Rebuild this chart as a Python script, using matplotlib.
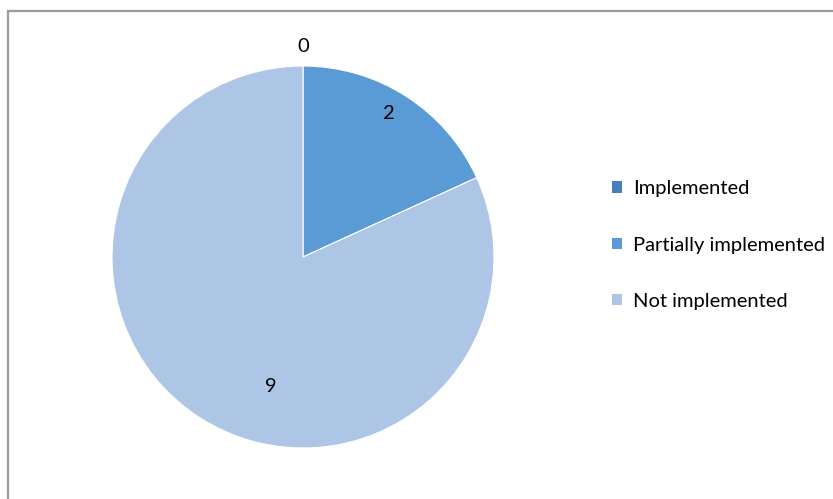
import matplotlib.pyplot as plt
import numpy as np
from matplotlib.patches import Patch, Rectangle

# status of the measures
categorias = ['Implemented', 'Partially implemented', 'Not implemented']
valores = [0, 2, 9]
cores = ['#4A7EBB', '#5B9BD5', '#ADC6E6']

plt.rcParams['font.family'] = ['Lato', 'DejaVu Sans']

fig = plt.figure(figsize=(8.33, 4.99), dpi=100)

# moldura cinza em volta do gráfico
fig.patches.append(Rectangle((7.5 / 833, -0.1), 1.2, 0.1 + (499 - 10.5) / 499,
                             transform=fig.transFigure, fill=False,
                             edgecolor='#9A9A9A', linewidth=1.6))

ax = fig.add_axes([(303 - 191) / 833, (499 - 448) / 499, 382 / 833, 382 / 499])
wedges, _ = ax.pie(valores, colors=cores, startangle=90, counterclock=False,
                   radius=1, wedgeprops={'linewidth': 0.8, 'edgecolor': 'white'})
ax.set_xlim(-1, 1)
ax.set_ylim(-1, 1)
ax.set_aspect('equal')
ax.axis('off')

# rótulos de valor: raio e deslocamento angular de cada um
raios = [1.1, 0.875, 0.70]
desloc = [0, 2, 19]
for w, v, r, d in zip(wedges, valores, raios, desloc):
    ang = np.deg2rad((w.theta1 + w.theta2) / 2 + d)
    ax.text(r * np.cos(ang), r * np.sin(ang), str(v), ha='center', va='center',
            fontsize=14.5, color='black')

handles = [Patch(facecolor=c, edgecolor='none') for c in cores]
fig.legend(handles, categorias, loc='center left',
           bbox_to_anchor=(612 / 833, (499 - 245) / 499), frameon=False,
           fontsize=14.5, handlelength=0.5, handleheight=0.5, handletextpad=0.55,
           labelspacing=1.95, borderpad=0, borderaxespad=0)

fig.savefig('out.png', dpi=100)
